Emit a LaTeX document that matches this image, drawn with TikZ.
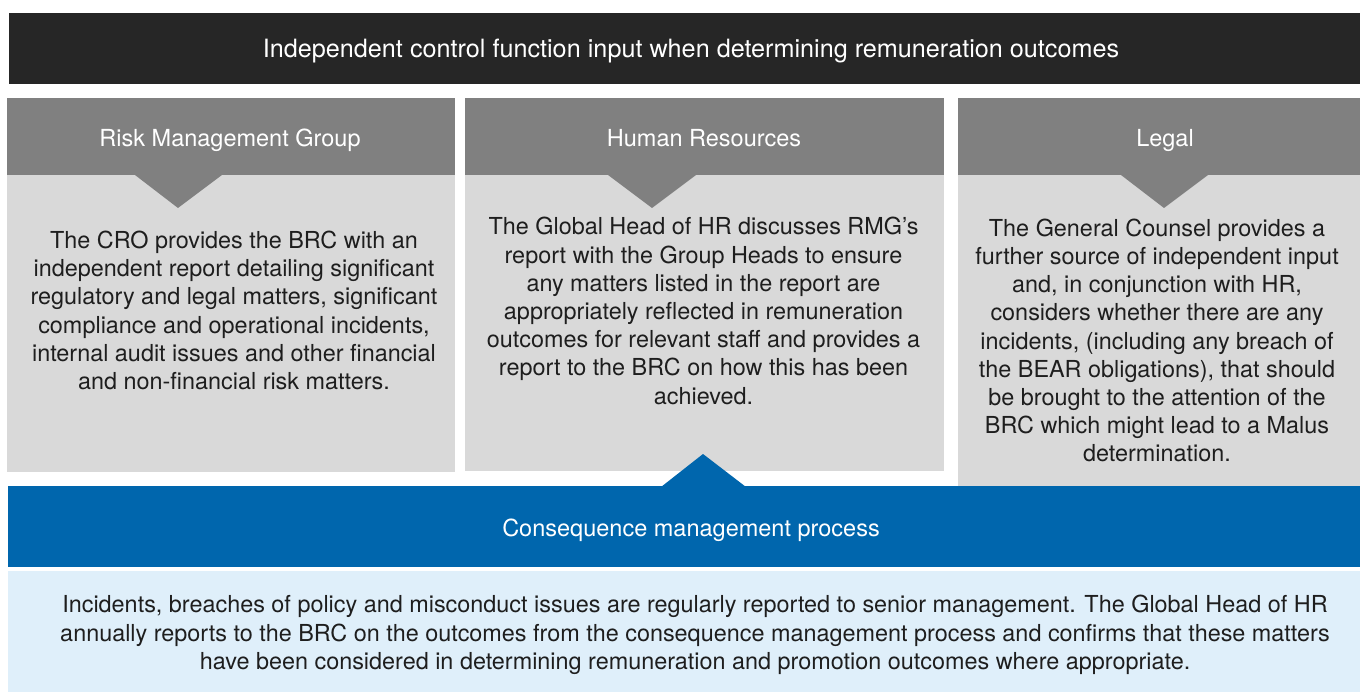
\documentclass[tikz,border=0pt]{standalone}
\usepackage{fontspec}
\setmainfont{TeX Gyre Heros}
\definecolor{darkbar}{HTML}{262626}
\definecolor{headgrey}{HTML}{808080}
\definecolor{bodygrey}{HTML}{D9D9D9}
\definecolor{bluebar}{HTML}{0066AD}
\definecolor{lightblue}{HTML}{DFEFFA}
\definecolor{txt}{HTML}{1E1E1E}
\begin{document}
\begin{tikzpicture}[x=1pt,y=-1pt,
  panel/.style={inner sep=0pt,outer sep=0pt,anchor=north west,draw=none},
  headtxt/.style={text=white,font=\fontsize{23.5}{26}\selectfont,inner sep=0pt,anchor=base},
  bodytxt/.style={text=txt,font=\fontsize{23.4}{28.2}\selectfont,align=center,inner sep=0pt}
]
\useasboundingbox[fill=white] (0,0) rectangle (1360,692);
% top bar
\node[panel,fill=darkbar,minimum width=1351pt,minimum height=71pt] (top) at (9,13) {};
\node[headtxt,font=\fontsize{25.2}{28}\selectfont] (toptxt) at (691,58) {Independent control function input when determining remuneration outcomes};
% column headers
\node[panel,fill=headgrey,minimum width=448pt,minimum height=77pt] (h1) at (7,98) {};
\node[panel,fill=headgrey,minimum width=479pt,minimum height=77pt] (h2) at (465,98) {};
\node[panel,fill=headgrey,minimum width=402pt,minimum height=77pt] (h3) at (958,98) {};
% column bodies
\node[panel,fill=bodygrey,minimum width=448pt,minimum height=297pt] (b1) at (7,175) {};
\node[panel,fill=bodygrey,minimum width=479pt,minimum height=296pt] (b2) at (465,175) {};
\node[panel,fill=bodygrey,minimum width=402pt,minimum height=311pt] (b3) at (958,175) {};
% down triangles
\fill[headgrey] (135,175) -- (222,175) -- (178,208) -- cycle;
\fill[headgrey] (608,175) -- (696,175) -- (652,208) -- cycle;
\fill[headgrey] (1121,175) -- (1208,175) -- (1164,208) -- cycle;
% header texts
\node[headtxt] (h1t) at (230,147) {Risk Management Group};
\node[headtxt] (h2t) at (704,147) {Human Resources};
\node[headtxt] (h3t) at (1165,147) {Legal};
% body texts
\node[bodytxt] (b1t) at (234,310.5) {The CRO provides the BRC with an\\independent report detailing significant\\regulatory and legal matters, significant\\compliance and operational incidents,\\internal audit issues and other financial\\and non-financial risk matters.};
\node[bodytxt] (b2t) at (703.5,311) {The Global Head of HR discusses RMG’s\\report with the Group Heads to ensure\\any matters listed in the report are\\appropriately reflected in remuneration\\outcomes for relevant staff and provides a\\report to the BRC on how this has been\\achieved.};
\node[bodytxt] (b3t) at (1157,340.5) {The General Counsel provides a\\further source of independent input\\and, in conjunction with HR,\\considers whether there are any\\incidents, (including any breach of\\the BEAR obligations), that should\\be brought to the attention of the\\BRC which might lead to a Malus\\determination.};
% blue bar
\node[panel,fill=bluebar,minimum width=1352pt,minimum height=81pt] (blue) at (8,486) {};
\fill[bluebar] (661,487) -- (703,454) -- (746,487) -- cycle;
\node[headtxt] (bluet) at (691,536) {Consequence management process};
% bottom light box
\node[panel,fill=lightblue,minimum width=1352pt,minimum height=121pt] (bot) at (8,571) {};
\node[bodytxt] (bott) at (695,635) {Incidents, breaches of policy and misconduct issues are regularly reported to senior management. The Global Head of HR\\annually reports to the BRC on the outcomes from the consequence management process and confirms that these matters\\have been considered in determining remuneration and promotion outcomes where appropriate.};
\end{tikzpicture}
\end{document}
